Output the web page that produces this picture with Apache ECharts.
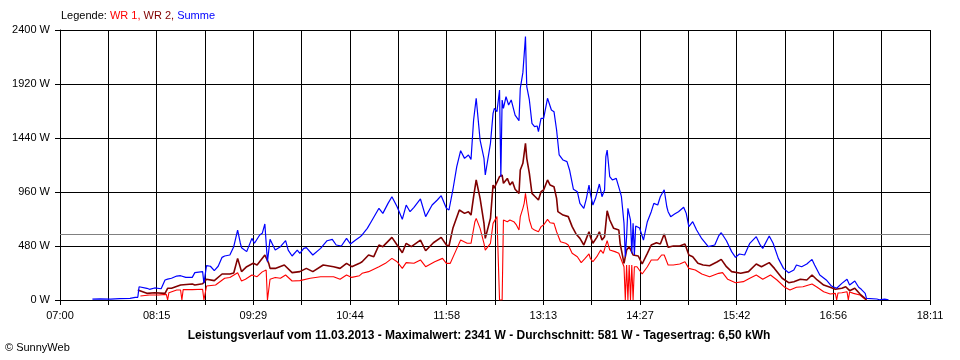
<!DOCTYPE html>
<html>
<head>
<meta charset="utf-8">
<script src="https://cdn.jsdelivr.net/npm/echarts@6/dist/echarts.min.js"></script>
<style>
html,body{margin:0;padding:0;background:#fff;}
#chart{width:960px;height:360px;}
</style>
</head>
<body>
<div id="chart"></div>
<script>
// ---- data (time "HH:MM", watts) ----
const xTickLabels = ["07:00","08:15","09:29","10:44","11:58","13:13","14:27","15:42","16:56","18:11"];
const yTickValues = [0, 480, 960, 1440, 1920, 2400];
const averageW = 581;
const titleText = "Leistungsverlauf vom 11.03.2013 - Maximalwert: 2341 W - Durchschnitt: 581 W - Tagesertrag: 6,50 kWh";

const wr1 = [ // WR 1 (red)
["08:02",36],["08:09",44],["08:16",44],["08:22",50],["08:23",0],["08:24",65],["08:30",89],["08:33",89],["08:34",0],["08:35",92],
["08:42",92],["08:50",95],["08:51",0],["08:53",124],["09:00",133],["09:07",193],["09:11",200],["09:17",243],["09:20",169],["09:23",184],
["09:28",222],["09:32",207],["09:36",250],["09:39",267],["09:40",0],["09:41",0],["09:42",184],["09:46",200],["09:50",193],["09:54",222],
["09:59",169],["10:05",172],["10:13",193],["10:21",207],["10:31",207],["10:36",184],["10:41",222],["10:45",201],["10:51",216],["10:53",237],
["10:58",252],["11:06",296],["11:11",326],["11:16",370],["11:20",340],["11:24",281],["11:27",332],["11:33",326],["11:38",356],["11:42",296],
["11:49",340],["11:55",370],["11:58",326],["12:01",326],["12:05",430],["12:09",533],["12:14",504],["12:17",504],["12:20",696],["12:21",726],
["12:24",637],["12:27",504],["12:28",444],["12:32",504],["12:34",681],["12:35",696],["12:37",741],["12:38",730],["12:39",0],["12:41",0],
["12:42",711],["12:45",696],["12:47",711],["12:50",696],["12:52",667],["12:54",622],["12:55",741],["12:57",815],["12:58",859],["12:59",948],
["13:00",859],["13:02",711],["13:04",637],["13:06",622],["13:09",607],["13:11",652],["13:13",667],["13:16",717],["13:18",687],["13:21",681],
["13:23",607],["13:26",518],["13:30",504],["13:32",489],["13:35",415],["13:39",385],["13:42",332],["13:45",370],["13:48",409],["13:49",370],
["13:51",340],["13:54",385],["13:57",444],["13:59",415],["14:02",527],["14:04",444],["14:08",430],["14:11",415],["14:13",356],["14:15",296],
["14:16",0],["14:17",311],["14:18",0],["14:19",311],["14:20",0],["14:21",311],["14:22",0],["14:23",296],["14:25",296],["14:29",231],
["14:33",296],["14:36",356],["14:41",356],["14:44",400],["14:46",400],["14:49",311],["14:53",311],["14:58",320],["15:02",340],["15:05",281],
["15:10",267],["15:15",231],["15:21",207],["15:28",237],["15:31",243],["15:35",184],["15:41",154],["15:47",163],["15:52",193],["15:57",222],
["16:02",184],["16:08",222],["16:13",178],["16:19",113],["16:23",89],["16:28",113],["16:33",118],["16:40",142],["16:44",113],["16:49",74],
["16:54",53],["16:58",59],["16:59",0],["17:00",62],["17:03",65],["17:07",74],["17:08",0],["17:09",72],["17:12",59],["17:17",44],
["17:20",15],["17:22",0]
];

const wr2 = [ // WR 2 (dark red)
["08:00",89],["08:01",84],["08:07",59],["08:13",65],["08:21",59],["08:23",104],["08:26",104],["08:33",133],["08:42",142],["08:44",133],
["08:50",145],["08:53",184],["08:59",172],["09:05",231],["09:11",231],["09:14",240],["09:17",370],["09:20",252],["09:24",296],["09:29",326],
["09:32",311],["09:38",400],["09:41",326],["09:42",281],["09:46",281],["09:53",311],["09:59",243],["10:05",252],["10:10",281],["10:15",252],
["10:23",311],["10:31",296],["10:36",281],["10:41",326],["10:45",296],["10:51",326],["10:53",340],["10:58",400],["11:02",385],["11:06",489],
["11:09",474],["11:16",557],["11:20",489],["11:24",420],["11:27",504],["11:31",474],["11:38",533],["11:42",438],["11:48",509],["11:54",557],
["11:58",489],["12:00",480],["12:03",637],["12:08",800],["12:12",770],["12:15",785],["12:17",755],["12:19",918],["12:21",1067],["12:24",904],
["12:27",681],["12:28",548],["12:32",726],["12:34",1022],["12:35",993],["12:36",1022],["12:37",1013],["12:39",1096],["12:41",1111],["12:42",1037],
["12:45",1081],["12:47",1022],["12:49",1052],["12:51",984],["12:54",948],["12:55",1156],["12:57",1215],["12:58",1230],["12:59",1393],["13:00",1259],
["13:02",1126],["13:04",948],["13:06",924],["13:09",889],["13:11",963],["13:13",978],["13:16",1067],["13:18",1022],["13:21",1007],["13:23",904],
["13:24",785],["13:28",755],["13:32",741],["13:35",652],["13:38",587],["13:41",548],["13:44",489],["13:46",548],["13:48",607],["13:49",563],
["13:51",504],["13:54",557],["13:56",607],["13:58",533],["14:00",563],["14:02",793],["14:04",711],["14:07",637],["14:08",622],["14:11",622],
["14:12",504],["14:15",326],["14:17",444],["14:19",474],["14:22",400],["14:26",391],["14:29",320],["14:33",415],["14:36",489],["14:40",509],
["14:43",498],["14:46",587],["14:49",468],["14:53",480],["14:58",480],["15:02",498],["15:05",400],["15:08",385],["15:12",326],["15:16",311],
["15:21",305],["15:27",340],["15:30",361],["15:34",296],["15:38",252],["15:45",237],["15:51",252],["15:57",320],["16:01",296],["16:07",332],
["16:11",281],["16:17",193],["16:22",154],["16:26",163],["16:31",184],["16:36",178],["16:40",222],["16:44",178],["16:49",133],["16:54",113],
["16:58",95],["17:03",104],["17:06",118],["17:09",83],["17:13",104],["17:17",53],["17:20",24],["17:22",0]
];

const summe = [ // Summe (blue)
["07:25",8],["07:31",10],["07:39",8],["07:46",12],["07:54",15],["07:58",24],["08:00",24],["08:01",118],["08:07",104],["08:09",95],
["08:13",107],["08:18",100],["08:21",178],["08:23",185],["08:26",193],["08:30",213],["08:33",216],["08:37",201],["08:42",201],["08:44",243],
["08:50",252],["08:51",150],["08:53",305],["08:56",300],["08:59",261],["09:02",300],["09:05",379],["09:07",391],["09:11",400],["09:14",474],
["09:17",622],["09:19",509],["09:20",465],["09:24",430],["09:28",548],["09:30",504],["09:34",578],["09:36",593],["09:38",676],["09:40",340],
["09:42",539],["09:46",444],["09:50",474],["09:54",527],["09:56",444],["09:59",391],["10:03",444],["10:05",415],["10:08",459],["10:10",465],
["10:15",400],["10:21",459],["10:26",527],["10:30",539],["10:33",489],["10:37",480],["10:41",548],["10:44",498],["10:48",533],["10:51",557],
["10:53",578],["10:57",637],["11:00",696],["11:06",815],["11:09",770],["11:13",859],["11:16",918],["11:20",829],["11:24",717],["11:27",844],
["11:30",785],["11:33",824],["11:38",898],["11:42",741],["11:47",844],["11:51",889],["11:54",927],["11:58",815],["12:00",800],["12:03",978],
["12:06",1185],["12:09",1327],["12:12",1259],["12:15",1289],["12:17",1250],["12:19",1600],["12:21",1793],["12:24",1422],["12:27",1259],["12:28",1111],
["12:32",1393],["12:34",1659],["12:35",1704],["12:37",1674],["12:39",1867],["12:40",1096],["12:41",1778],["12:42",1704],["12:44",1807],["12:46",1733],
["12:48",1778],["12:51",1644],["12:54",1594],["12:55",1881],["12:57",2021],["12:58",2030],["12:59",2341],["13:00",1896],["13:02",1778],["13:04",1570],
["13:06",1541],["13:08",1547],["13:09",1496],["13:11",1615],["13:13",1615],["13:16",1793],["13:19",1689],["13:21",1674],["13:23",1511],["13:25",1289],
["13:28",1244],["13:31",1230],["13:33",1156],["13:36",984],["13:39",963],["13:41",859],["13:44",815],["13:46",904],["13:48",1022],["13:49",948],
["13:51",844],["13:53",904],["13:56",1031],["13:58",918],["14:00",978],["14:01",1274],["14:02",1333],["14:04",1096],["14:06",1067],["14:09",1081],
["14:12",963],["14:13",918],["14:15",681],["14:16",385],["14:17",563],["14:18",815],["14:20",711],["14:21",415],["14:22",681],["14:23",400],
["14:24",658],["14:27",640],["14:30",533],["14:33",696],["14:36",785],["14:38",859],["14:39",874],["14:41",844],["14:43",918],["14:46",980],
["14:48",829],["14:49",785],["14:51",741],["14:52",755],["14:54",764],["14:57",785],["14:58",770],["15:01",824],["15:03",770],["15:05",652],
["15:08",696],["15:11",622],["15:15",545],["15:20",474],["15:25",489],["15:28",569],["15:30",598],["15:31",593],["15:34",527],["15:38",430],
["15:41",379],["15:44",409],["15:48",400],["15:52",504],["15:57",563],["16:00",489],["16:02",459],["16:07",569],["16:10",504],["16:14",370],
["16:18",281],["16:22",243],["16:26",267],["16:28",311],["16:32",296],["16:36",320],["16:40",361],["16:42",311],["16:46",222],["16:51",178],
["16:55",124],["16:59",104],["17:03",148],["17:07",184],["17:09",133],["17:13",169],["17:16",113],["17:18",95],["17:21",59],["17:22",15],
["17:30",9],["17:32",2],["17:36",8],["17:39",2]
];

// ---- helpers ----
// x axis unit: 1/18 minute after 07:00 (so that the 18 grid columns of 671/18 min are integers)
const X_PER_MIN = 18;
const X_MAX = 671 * X_PER_MIN;
const X_INTERVAL = 671;
function toX(t) { const p = t.split(':').map(Number); return ((p[0] - 7) * 60 + p[1]) * X_PER_MIN; }
function conv(arr) { return arr.map(d => [toX(d[0]), d[1]]); }

const FONT = "'Liberation Sans', Arial, sans-serif";
const chart = echarts.init(document.getElementById('chart'), null, {renderer: 'canvas'});

chart.setOption({
  animation: false,
  backgroundColor: '#ffffff',
  textStyle: {fontFamily: FONT},
  grid: {left: 60, right: 30, top: 30, bottom: 60, containLabel: false},
  xAxis: {
    type: 'value', min: 0, max: X_MAX, interval: X_INTERVAL,
    axisLine: {show: true, lineStyle: {color: '#000', width: 1}},
    axisTick: {show: true, length: 5, lineStyle: {color: '#000', width: 1}},
    splitLine: {show: true, lineStyle: {color: '#000', width: 1}},
    axisLabel: {
      color: '#000', fontSize: 11, fontFamily: FONT, margin: 10, showMaxLabel: true, showMinLabel: true,
      formatter: function (v) {
        const i = Math.round(v / X_INTERVAL);
        if (i % 2) return '';
        return xTickLabels[i / 2];
      }
    }
  },
  yAxis: {
    type: 'value', min: 0, max: 2400, interval: 480,
    axisLine: {show: true, lineStyle: {color: '#000', width: 1}},
    axisTick: {show: true, length: 5, lineStyle: {color: '#000', width: 1}},
    splitLine: {show: true, lineStyle: {color: '#000', width: 1}},
    axisLabel: {
      color: '#000', fontSize: 11, fontFamily: FONT, margin: 10,
      formatter: function (v) { return yTickValues.indexOf(v) >= 0 ? v + ' W' : ''; }
    }
  },
  series: [
    {
      name: 'WR 1', type: 'line', data: conv(wr1), showSymbol: false, symbol: 'none',
      lineStyle: {color: '#ff0000', width: 1.1}, z: 3,
      markLine: {
        silent: true, symbol: ['none', 'none'], label: {show: false},
        lineStyle: {color: '#808080', type: 'solid', width: 1},
        data: [{yAxis: averageW}]
      }
    },
    {
      name: 'WR 2', type: 'line', data: conv(wr2), showSymbol: false, symbol: 'none',
      lineStyle: {color: '#800000', width: 1.6}, z: 4
    },
    {
      name: 'Summe', type: 'line', data: conv(summe), showSymbol: false, symbol: 'none',
      lineStyle: {color: '#0000ff', width: 1.2}, z: 5
    }
  ],
  graphic: [
    {
      type: 'text', left: 61, top: 10,
      style: {
        text: '{k|Legende: }{a|WR 1, }{b|WR 2, }{c|Summe}',
        rich: {
          k: {fill: '#000', fontSize: 11, fontFamily: FONT},
          a: {fill: '#ff0000', fontSize: 11, fontFamily: FONT},
          b: {fill: '#800000', fontSize: 11, fontFamily: FONT},
          c: {fill: '#0000ff', fontSize: 11, fontFamily: FONT}
        }
      }
    },
    {
      type: 'text', x: 479, y: 336,
      style: {
        text: titleText, fill: '#000', fontSize: 12, fontWeight: 'bold', fontFamily: FONT,
        textAlign: 'center', textVerticalAlign: 'middle'
      }
    },
    {
      type: 'text', x: 5, y: 348,
      style: {
        text: '\u00A9 SunnyWeb', fill: '#000', fontSize: 11, fontFamily: FONT,
        textAlign: 'left', textVerticalAlign: 'middle'
      }
    }
  ]
});
</script>
</body>
</html>
